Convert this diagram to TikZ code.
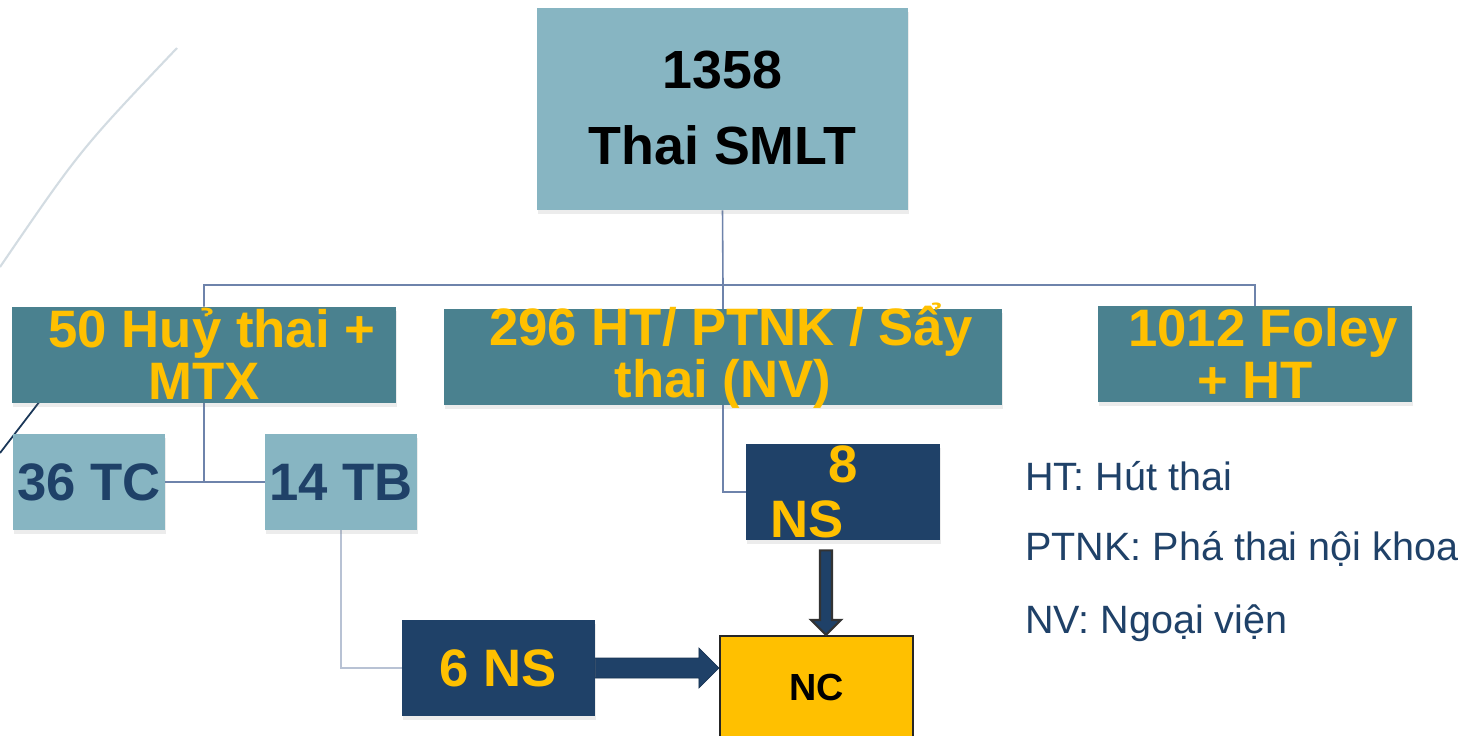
\documentclass[tikz,border=0pt]{standalone}
\usepackage{fontspec}
\setmainfont{Liberation Sans}
\usetikzlibrary{positioning,calc,shadows,backgrounds}

\definecolor{boxlight}{HTML}{87B5C2}
\definecolor{boxmid}{HTML}{4A818F}
\definecolor{boxnavy}{HTML}{1F4168}
\definecolor{gold}{HTML}{FFC000}
\definecolor{linkblue}{HTML}{6E83AB}
\definecolor{linkgrey}{HTML}{B8C2D4}
\definecolor{arcgrey}{HTML}{D3DCE2}

\tikzset{
  box/.style={rectangle, inner sep=0pt,
    drop shadow={opacity=.15, shadow xshift=0.6pt, shadow yshift=-2pt}},
  rootbox/.style={box, fill=boxlight, minimum width=7.42cm, minimum height=4.04cm,
    align=center, font=\fontsize{30.6}{43.7}\selectfont\bfseries,
    text height=3.14cm, text depth=0.9cm},
  groupbox/.style={box, fill=boxmid, text=gold, minimum height=1.92cm, align=center,
    font=\fontsize{30}{29.5}\selectfont\bfseries, text height=1.84cm, text depth=0.08cm},
  subbox/.style={box, fill=boxlight, text=boxnavy, minimum width=3.04cm,
    minimum height=1.92cm, font=\fontsize{30}{36}\selectfont\bfseries},
  nsbox/.style={box, fill=boxnavy, text=gold, minimum height=1.92cm,
    font=\fontsize{30}{31}\selectfont\bfseries},
  ncbox/.style={rectangle, fill=gold, draw=black!85, line width=1.2pt,
    minimum width=3.86cm, minimum height=2.04cm, font=\fontsize{21.5}{26}\selectfont\bfseries},
  link/.style={draw=linkblue, line width=0.9pt},
  legend/.style={anchor=base west, inner sep=0pt, text=boxnavy,
    font=\fontsize{22.5}{27}\selectfont},
}

\begin{document}
\begin{tikzpicture}[x=0.02cm, y=-0.02cm]
    \useasboundingbox (0,0) rectangle (1468,735);
    \clip (0,0) rectangle (1468,735);

    % Top
    \node[rootbox] (root) at (722.5,109) {1358\\Thai SMLT};

    % Second row
    \node[groupbox, minimum width=7.68cm] (huy) at (204,355) {\hspace*{.3em}50 Huỷ thai +\\MTX};
    \node[groupbox, minimum width=11.16cm, text height=1.76cm, text depth=0.16cm] (mid) at (723,357)
        {\hspace*{.3em}296 HT/ PTNK / Sẩy\\thai (NV)};
    \node[groupbox, minimum width=6.28cm] (foley) at (1255,354) {\hspace*{.3em}1012 Foley\\+ HT};

    % Below
    \node[subbox] (tc) at (89,482) {36 TC};
    \node[subbox] (tb) at (341,482) {14 TB};
    \node[nsbox, minimum width=3.88cm, align=center, text height=1.86cm, text depth=0.06cm] (ns8) at (843,492)
        {8\\NS\hspace*{1.35em}};
    \node[nsbox, minimum width=3.86cm] (ns6) at (498.5,668) {6 NS};
    \node[ncbox] (nc) at (816.5,687) {NC};

    % Legend
    \node[legend] (lght) at (1025,490) {HT: Hút thai};
    \node[legend] (lgptnk) at (1025,560) {PTNK: Phá thai nội khoa};
    \node[legend] (lgnv) at (1025,633) {NV: Ngoại viện};

    % Connectors
    \coordinate (bus) at (723,285);
    \begin{scope}[on background layer]
        \draw[arcgrey, line width=1.2pt] (177,48) .. controls (80,150) .. (0,267);
        \draw[boxnavy!85!black, line width=1pt] (0,453) -- (50,388);
        \draw[link] (root.south) -- (bus) -| (huy.north);
        \draw[link] (bus) -| (foley.north);
        \draw[link] (bus) |- (ns8.west);
        \draw[link] (huy.south) |- (tc.east);
        \draw[link] (huy.south) |- (tb.west);
        \draw[link, draw=linkgrey] (tb.south) |- (ns6.west);
    \end{scope}

    % Block arrows
    \coordinate (h0) at (ns6.east);
    \coordinate (h1) at (nc.west |- ns6.east);
    \filldraw[fill=boxnavy, draw=boxnavy!80!black, line width=.4pt]
        ($(h0)+(0,-10)$) -- ($(h1)+(-20,-10)$) -- ($(h1)+(-20,-20)$) -- (h1)
        -- ($(h1)+(-20,20)$) -- ($(h1)+(-20,10)$) -- ($(h0)+(0,10)$) -- cycle;
    \coordinate (v0) at ($(ns8.south)+(-17,10)$);
    \coordinate (v1) at (v0 |- nc.north);
    \filldraw[fill=boxnavy, draw=black!80, line width=1.2pt]
        ($(v0)+(-6,0)$) -- ($(v1)+(-6,-15)$) -- ($(v1)+(-15,-15)$) -- (v1)
        -- ($(v1)+(15,-15)$) -- ($(v1)+(6,-15)$) -- ($(v0)+(6,0)$) -- cycle;
\end{tikzpicture}
\end{document}
